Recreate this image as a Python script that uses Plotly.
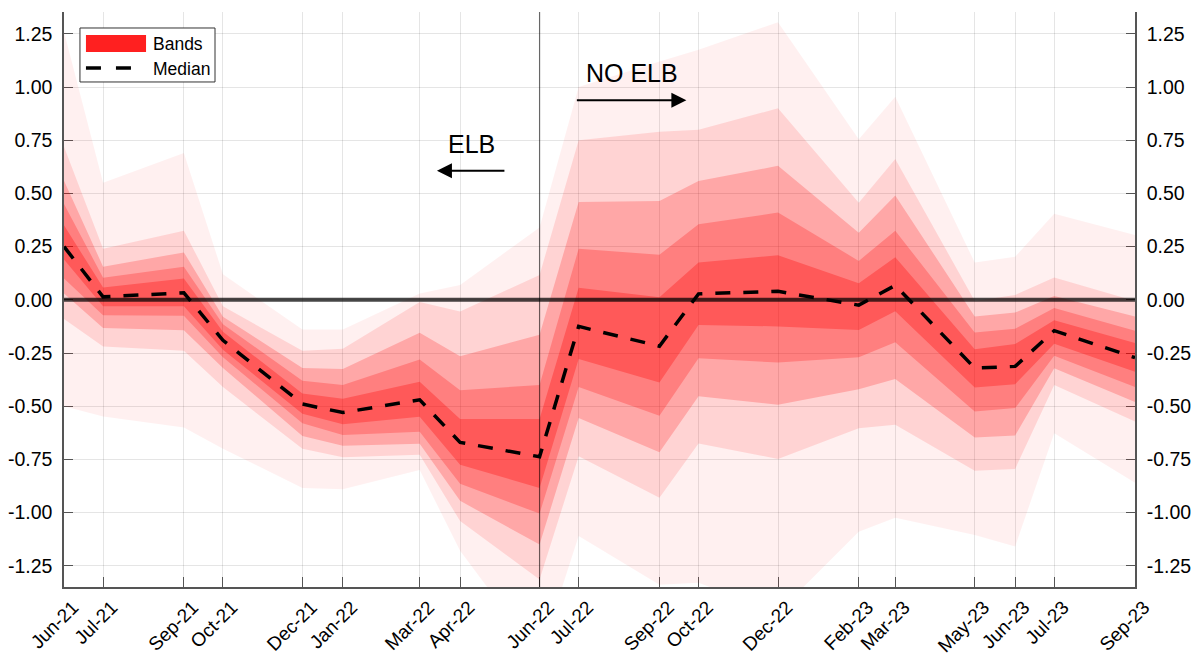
import plotly.graph_objects as go

# Forecast dates and their axis labels
dates = ["2021-06-01", "2021-07-01", "2021-09-01", "2021-10-01", "2021-12-01",
         "2022-01-01", "2022-03-01", "2022-04-01", "2022-06-01", "2022-07-01",
         "2022-09-01", "2022-10-01", "2022-12-01", "2023-02-01", "2023-03-01",
         "2023-05-01", "2023-06-01", "2023-07-01", "2023-09-01"]
date_labels = ["Jun-21", "Jul-21", "Sep-21", "Oct-21", "Dec-21", "Jan-22", "Mar-22",
               "Apr-22", "Jun-22", "Jul-22", "Sep-22", "Oct-22", "Dec-22", "Feb-23",
               "Mar-23", "May-23", "Jun-23", "Jul-23", "Sep-23"]

# Quantile bands, outermost (5) to innermost (1)
upper5 = [1.26, 0.55, 0.69, 0.12, -0.14, -0.14, 0.03, 0.07, 0.34, 1.00,
          1.12, 1.175, 1.305, 0.755, 0.955, 0.175, 0.203, 0.405, 0.305]
upper4 = [0.72, 0.24, 0.325, -0.03, -0.24, -0.23, -0.01, -0.055, 0.117, 0.75,
          0.79, 0.80, 0.90, 0.456, 0.662, -0.005, 0.023, 0.105, -0.005]
upper3 = [0.56, 0.156, 0.223, -0.08, -0.32, -0.325, -0.155, -0.265, -0.164, 0.46,
          0.465, 0.558, 0.63, 0.315, 0.49, -0.078, -0.06, 0.018, -0.078]
upper2 = [0.45, 0.104, 0.155, -0.115, -0.38, -0.40, -0.28, -0.425, -0.40, 0.24,
          0.212, 0.355, 0.41, 0.183, 0.325, -0.154, -0.136, -0.038, -0.145]
upper1 = [0.35, 0.058, 0.10, -0.15, -0.44, -0.465, -0.385, -0.56, -0.56, 0.057,
          0.012, 0.175, 0.21, 0.078, 0.20, -0.232, -0.208, -0.096, -0.203]
median = [0.25, 0.014, 0.033, -0.19, -0.49, -0.53, -0.47, -0.67, -0.738, -0.125,
          -0.218, 0.028, 0.04, -0.025, 0.068, -0.321, -0.313, -0.145, -0.272]
lower1 = [0.19, -0.03, -0.03, -0.235, -0.535, -0.585, -0.55, -0.775, -0.885, -0.278,
          -0.389, -0.118, -0.125, -0.142, -0.054, -0.412, -0.397, -0.206, -0.338]
lower2 = [0.10, -0.072, -0.075, -0.27, -0.58, -0.635, -0.62, -0.865, -1.005, -0.41,
          -0.545, -0.275, -0.295, -0.27, -0.20, -0.525, -0.509, -0.263, -0.41]
lower3 = [0.03, -0.133, -0.143, -0.32, -0.64, -0.686, -0.677, -0.945, -1.15, -0.555,
          -0.717, -0.453, -0.493, -0.42, -0.372, -0.647, -0.638, -0.322, -0.48]
lower4 = [-0.09, -0.219, -0.24, -0.41, -0.70, -0.74, -0.728, -1.04, -1.315, -0.735,
          -0.93, -0.675, -0.748, -0.604, -0.587, -0.804, -0.795, -0.40, -0.572]
lower5 = [-0.50, -0.548, -0.60, -0.70, -0.885, -0.89, -0.80, -1.18, -1.68, -1.11,
          -1.34, -1.33, -1.47, -1.09, -1.025, -1.105, -1.16, -0.627, -0.86]

y_ticks = [-1.25, -1.0, -0.75, -0.5, -0.25, 0.0, 0.25, 0.5, 0.75, 1.0, 1.25]
y_range = [-1.35, 1.353]
regime_break = "2022-06-01"

FONT = "Liberation Sans, Arial, Helvetica, sans-serif"
MEDIAN_DASH = "15px,13px"

bands = [
    (upper5, lower5, "rgba(255,0,0,0.059)"),
    (upper4, lower4, "rgba(255,0,0,0.117)"),
    (upper3, lower3, "rgba(255,0,0,0.208)"),
    (upper2, lower2, "rgba(255,0,0,0.238)"),
    (upper1, lower1, "rgba(255,0,0,0.297)"),
]

fig = go.Figure()

# Nested translucent fan bands
for up, lo, col in bands:
    fig.add_trace(go.Scatter(
        x=dates + dates[::-1], y=up + lo[::-1],
        fill="toself", fillcolor=col, mode="lines", line=dict(width=0),
        showlegend=False, hoverinfo="skip"))

# Zero line, regime divider and median on the overlay axis (drawn above the bands)
fig.add_trace(go.Scatter(
    x=[dates[0], dates[-1]], y=[0, 0], yaxis="y2", mode="lines",
    line=dict(color="rgba(0,0,0,0.72)", width=4), showlegend=False, hoverinfo="skip"))
fig.add_trace(go.Scatter(
    x=[regime_break, regime_break], y=y_range, yaxis="y2", mode="lines",
    line=dict(color="rgba(0,0,0,0.55)", width=1.2), showlegend=False, hoverinfo="skip"))
fig.add_trace(go.Scatter(
    x=dates, y=median, yaxis="y2", mode="lines", name="Median",
    line=dict(color="black", width=3.5, dash=MEDIAN_DASH),
    showlegend=False, hoverinfo="skip"))

tick_text = [f"{v:.2f}" for v in y_ticks]
axis_col = "#555555"

# Legend key drawn in paper coordinates (box, band swatch, dashed median sample)
legend_shapes = [
    dict(type="rect", xref="paper", yref="paper", x0=0.0149, x1=0.1410,
         y0=0.8783, y1=0.9722, line=dict(color="#333333", width=1),
         fillcolor="white", layer="above"),
    dict(type="rect", xref="paper", yref="paper", x0=0.0205, x1=0.0766,
         y0=0.9304, y1=0.9600, line=dict(width=0), fillcolor="#ff2020",
         layer="above"),
    dict(type="line", xref="paper", yref="paper", x0=0.0205, x1=0.0635,
         y0=0.9026, y1=0.9026, line=dict(color="black", width=3.5, dash="15px,15px"),
         layer="above"),
]

fig.update_layout(
    width=1192, height=655,
    margin=dict(l=64, r=57, t=12, b=68, autoexpand=False),
    paper_bgcolor="white", plot_bgcolor="white",
    font=dict(family=FONT, size=19.5, color="black"),
    showlegend=False,
    xaxis=dict(
        type="date", range=[dates[0], dates[-1]], automargin=False,
        tickvals=dates, ticktext=date_labels, tickangle=-45,
        showgrid=True, gridcolor="rgba(0,0,0,0.1)", gridwidth=1.2,
        showline=True, linecolor=axis_col, linewidth=1.5,
        ticks="inside", ticklen=10, tickcolor=axis_col, tickwidth=1.2,
        zeroline=False, tickfont=dict(size=19), ticklabelshift=9,
        layer="below traces"),
    yaxis=dict(
        range=y_range, tickvals=y_ticks, ticktext=tick_text, automargin=False,
        showgrid=True, gridcolor="rgba(0,0,0,0.1)", gridwidth=1.2,
        showline=True, linecolor=axis_col, linewidth=1.5,
        ticks="inside", ticklen=9, tickcolor=axis_col, tickwidth=1.2,
        zeroline=False, ticklabelstandoff=6, layer="below traces"),
    yaxis2=dict(
        range=y_range, overlaying="y", side="right", automargin=False,
        tickvals=y_ticks, ticktext=tick_text, showgrid=False,
        showline=True, linecolor=axis_col, linewidth=1.5,
        ticks="inside", ticklen=9, tickcolor=axis_col, tickwidth=1.2,
        zeroline=False, ticklabelstandoff=6, layer="below traces"),
    shapes=legend_shapes,
    annotations=[
        dict(text="Bands", x=0.0808, y=0.9443, xref="paper", yref="paper",
             xanchor="left", yanchor="middle", showarrow=False, font=dict(size=17.5)),
        dict(text="Median", x=0.0808, y=0.9009, xref="paper", yref="paper",
             xanchor="left", yanchor="middle", showarrow=False, font=dict(size=17.5)),
        dict(text="ELB", x=0.3803, y=0.770, xref="paper", yref="paper",
             xanchor="center", yanchor="middle", showarrow=False, font=dict(size=25)),
        dict(text="", x=0.3482, y=0.7238, xref="paper", yref="paper",
             ax=69, ay=0, showarrow=True, arrowhead=2, arrowsize=1.5,
             arrowwidth=2, arrowcolor="black", standoff=0),
        dict(text="NO ELB", x=0.5308, y=0.8935, xref="paper", yref="paper",
             xanchor="center", yanchor="middle", showarrow=False, font=dict(size=25)),
        dict(text="", x=0.5811, y=0.8466, xref="paper", yref="paper",
             ax=-111, ay=0, showarrow=True, arrowhead=2, arrowsize=1.5,
             arrowwidth=2, arrowcolor="black", standoff=0),
    ],
)

fig.write_html("out.html")
